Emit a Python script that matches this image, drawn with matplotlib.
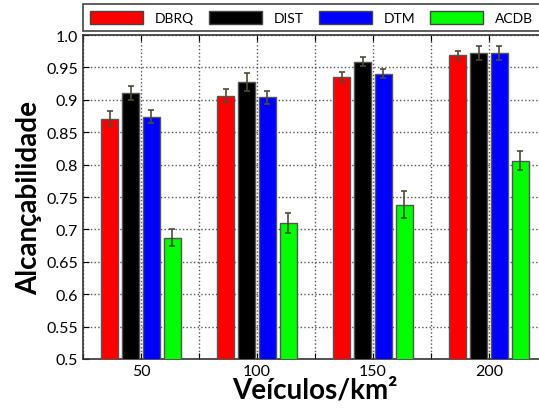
import matplotlib.pyplot as plt
import numpy as np

densities = [50, 100, 150, 200]
methods = ['DBRQ', 'DIST', 'DTM', 'ACDB']
colors = ['#ff0000', '#000000', '#0000ff', '#00ff00']

# mean reachability per method and density
dbrq = [0.871, 0.906, 0.935, 0.969]
dist = [0.910, 0.928, 0.959, 0.972]
dtm = [0.874, 0.904, 0.940, 0.972]
acdb = [0.687, 0.710, 0.738, 0.806]

dbrq_err = [0.012, 0.010, 0.008, 0.007]
dist_err = [0.011, 0.014, 0.007, 0.011]
dtm_err = [0.010, 0.010, 0.007, 0.011]
acdb_err = [0.013, 0.015, 0.021, 0.015]

values = [dbrq, dist, dtm, acdb]
errors = [dbrq_err, dist_err, dtm_err, acdb_err]

yticks = [0.5, 0.55, 0.6, 0.65, 0.7, 0.75, 0.8, 0.85, 0.9, 0.95, 1.0]
ytick_labels = ['0.5', '0.55', '0.6', '0.65', '0.7', '0.75', '0.8', '0.85', '0.9', '0.95', '1.0']

plt.rcParams['font.family'] = ['Lato', 'DejaVu Sans']

fig = plt.figure(figsize=(5.39, 4.10), dpi=100)
ax = fig.add_axes([83 / 539, 50 / 410, 464 / 539, 324 / 410])

offsets = [-13.5, -4.5, 4.5, 13.5]
x = np.array(densities, dtype=float)
for i, name in enumerate(methods):
    ax.bar(x + offsets[i], values[i], width=7.6, color=colors[i],
           edgecolor='#555555', linewidth=1.0, label=name, zorder=3,
           yerr=errors[i], ecolor='#4d4a36',
           error_kw=dict(capsize=2.5, elinewidth=1.2, capthick=1.2, zorder=4))

ax.set_xlim(25, 225)
ax.set_ylim(0.5, 1.0)
ax.set_xticks(np.arange(25, 226, 25))
ax.set_xticklabels(['' if v not in densities else str(v) for v in range(25, 226, 25)])
ax.set_yticks(yticks)
ax.set_yticklabels(ytick_labels)
ax.tick_params(direction='in', top=True, right=True, labelsize=11.5, length=4)
ax.grid(True, linestyle=':', color='#555555', linewidth=1.0, zorder=0)
for s in ax.spines.values():
    s.set_linewidth(1.2)
    s.set_color('#333333')

ax.set_xlabel('Veículos/km²', fontsize=20, fontweight='bold', labelpad=-1)
ax.set_ylabel('Alcançabilidade', fontsize=20, fontweight='bold', labelpad=3)

leg = ax.legend(ncol=4, loc='lower left', bbox_to_anchor=(0, 1.012),
                fontsize=10, handlelength=3.8, handleheight=1.0,
                handletextpad=0.85, columnspacing=1.1, borderaxespad=0,
                borderpad=0.5, fancybox=False, frameon=True,
                edgecolor='#444444', framealpha=1)
leg.get_frame().set_linewidth(1.2)
for h in leg.legend_handles:
    h.set_edgecolor('#444444')

plt.savefig('out.png', dpi=100)
